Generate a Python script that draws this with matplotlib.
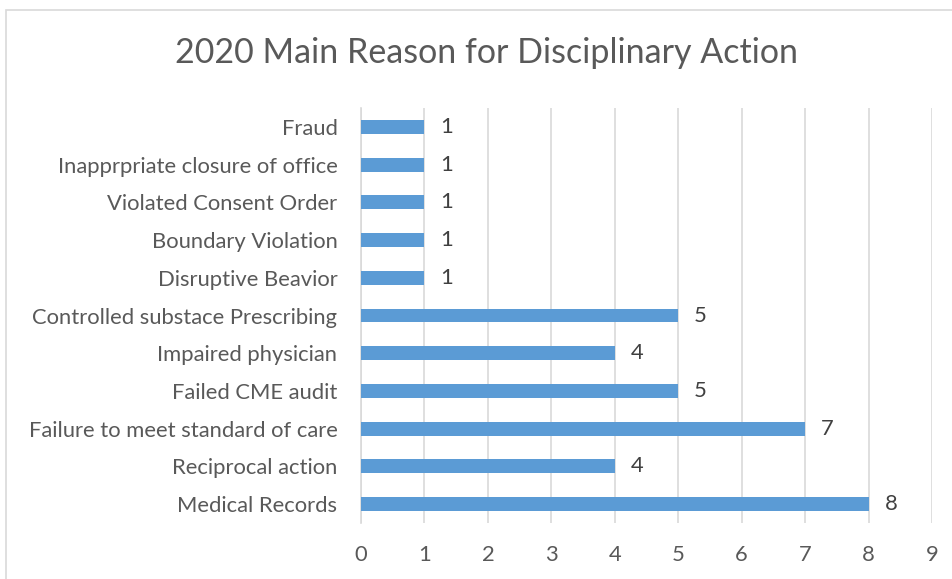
import matplotlib
matplotlib.use("Agg")
import matplotlib.pyplot as plt
from matplotlib.patches import Rectangle

categories = ["Medical Records", "Reciprocal action", "Failure to meet standard of care",
              "Failed CME audit", "Impaired physician", "Controlled substace Prescribing",
              "Disruptive Beavior", "Boundary Violation", "Violated Consent Order",
              "Inapprpriate closure of office", "Fraud"]
values = [8, 4, 7, 5, 4, 5, 1, 1, 1, 1, 1]
xticks = list(range(0, 10))

font = "Lato"
txt = "#595959"
fs = 15.8

fig = plt.figure(figsize=(9.52, 5.79), dpi=100)
fig.patches.append(Rectangle((6/952, -0.01), 1.0, 1 - 10/579 + 0.01, transform=fig.transFigure,
                             fill=False, edgecolor="#D9D9D9", linewidth=1.2))
ax = fig.add_axes([361/952, 1 - 523/579, (932 - 361)/952, (523 - 108)/579])
y = list(range(len(categories)))
ax.barh(y, values, height=0.37, color="#5B9BD5", zorder=3)
for yi, v in zip(y, values):
    ax.text(v + 0.25, yi, str(v), va="center", ha="left", fontsize=fs, color="#404040", family=font)
ax.set_xlim(0, 9)
ax.set_ylim(-0.5, len(categories) - 0.5)
ax.set_xticks(xticks)
ax.set_yticks(y)
ax.set_yticklabels(categories, fontsize=fs, color=txt, family=font)
ax.set_xticklabels([str(t) for t in xticks], fontsize=fs, color=txt, family=font)
ax.tick_params(axis="both", length=0)
ax.tick_params(axis="y", pad=17)
ax.tick_params(axis="x", pad=16)
ax.grid(axis="x", color="#D9D9D9", linewidth=1.2, zorder=0)
for s in ["top", "right", "bottom"]:
    ax.spines[s].set_visible(False)
ax.spines["left"].set_color("#D9D9D9")
ax.spines["left"].set_linewidth(1.2)
fig.text(487/952, 1 - 53/579, "2020 Main Reason for Disciplinary Action", ha="center", va="center",
         fontsize=24.5, color=txt, family=font)
fig.savefig("out.png", dpi=100)
